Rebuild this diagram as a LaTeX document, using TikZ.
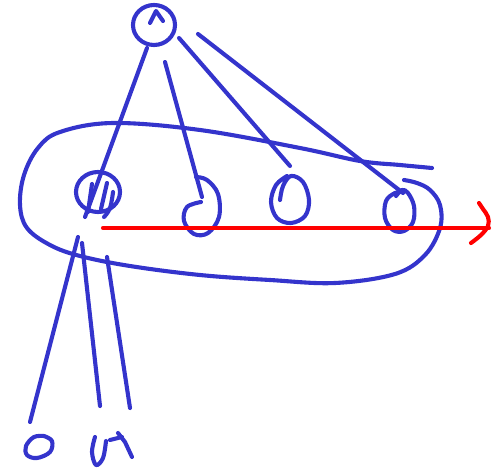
\documentclass[tikz,border=0pt]{standalone}
\definecolor{pen}{RGB}{52,52,204}
\definecolor{redpen}{RGB}{255,0,0}
\tikzset{
  stroke/.style={draw=pen,line width=4.1pt,line cap=round,line join=round},
  redstroke/.style={draw=redpen,line width=4.1pt,line cap=round,line join=round}
}
\begin{document}
\begin{tikzpicture}[x=1pt,y=-1pt]
\useasboundingbox (0,0) rectangle (497,470);
% top circle
\draw[stroke] (154,25) ellipse [x radius=21,y radius=20];
\draw[stroke] (150,23) -- (156,11) -- (163,21);
% lines from top circle
\coordinate (t1) at (147,48); \coordinate (e1) at (85,217);
\coordinate (t2) at (165,62); \coordinate (e2) at (202,197);
\coordinate (t3) at (179,38); \coordinate (e3) at (290,166);
\coordinate (t4) at (198,34); \coordinate (e4) at (403,193);
\draw[stroke] (t1) -- (e1);
\draw[stroke] (t2) -- (e2);
\draw[stroke] (t3) -- (e3);
\draw[stroke] (t4) -- (e4);
% big loop
\draw[stroke] plot[smooth,tension=0.6] coordinates {
 (432,168) (400,165) (360,161) (300,148) (200,130) (113,123) (60,132) (38,148)
 (24,175) (20,205) (27,228) (50,245) (80,256) (130,266) (200,275) (270,280) (335,283)
 (395,274) (425,255) (440,228) (440,205) (430,190) (417,183) (404,180)};
% left circle
\draw[stroke] (98,192) ellipse [x radius=22,y radius=20];
\draw[stroke] (107,183) -- (101,209);
\draw[stroke] plot[smooth,tension=0.7] coordinates {(113,192) (110,208) (104,217)};
\draw[stroke] (92,184) -- (88,212);
% second circle (spiral)
\draw[stroke] plot[smooth,tension=0.6] coordinates {
 (201,202) (187,207) (184,221) (194,234) (208,233) (219,217) (218,194) (207,180) (196,177)};
% third circle
\draw[stroke] plot[smooth,tension=0.6] coordinates {
 (280,200) (283,186) (291,176) (303,182) (309,200) (305,216) (291,223) (277,218) (271,202) (276,185) (287,176)};
% fourth circle
\draw[stroke] plot[smooth,tension=0.6] coordinates {
 (396,196) (402,190) (408,193) (414,206) (413,222) (404,231) (393,230) (385,218) (386,201) (395,193) (403,192)};
% red arrow
\coordinate (rs) at (103,228); \coordinate (re) at (489,228);
\draw[redstroke] (rs) -- (re);
\draw[redstroke] plot[smooth,tension=0.6] coordinates {(479,203) (483,209) (488,217) (488,226) (481,235) (471,243)};
% lines down
\coordinate (b1s) at (78,237); \coordinate (b1e) at (30,422);
\coordinate (b2s) at (82,243); \coordinate (b2e) at (100,406);
\coordinate (b3s) at (107,257); \coordinate (b3e) at (130,408);
\draw[stroke] (b1s) -- (b1e);
\draw[stroke] (b2s) -- (b2e);
\draw[stroke] (b3s) -- (b3e);
% bottom marks
\draw[stroke] plot[smooth,tension=0.6] coordinates {
 (44,436) (52,441) (50,452) (37,458) (27,455) (26,446) (34,437) (44,436)};
\draw[stroke] plot[smooth,tension=0.6] coordinates {
 (95,437) (92,452) (96,465) (103,458) (106,441)};
\draw[stroke] (110,440) -- (122,437);
\draw[stroke] (118,433) -- (125,442) -- (132,457);
\end{tikzpicture}
\end{document}
